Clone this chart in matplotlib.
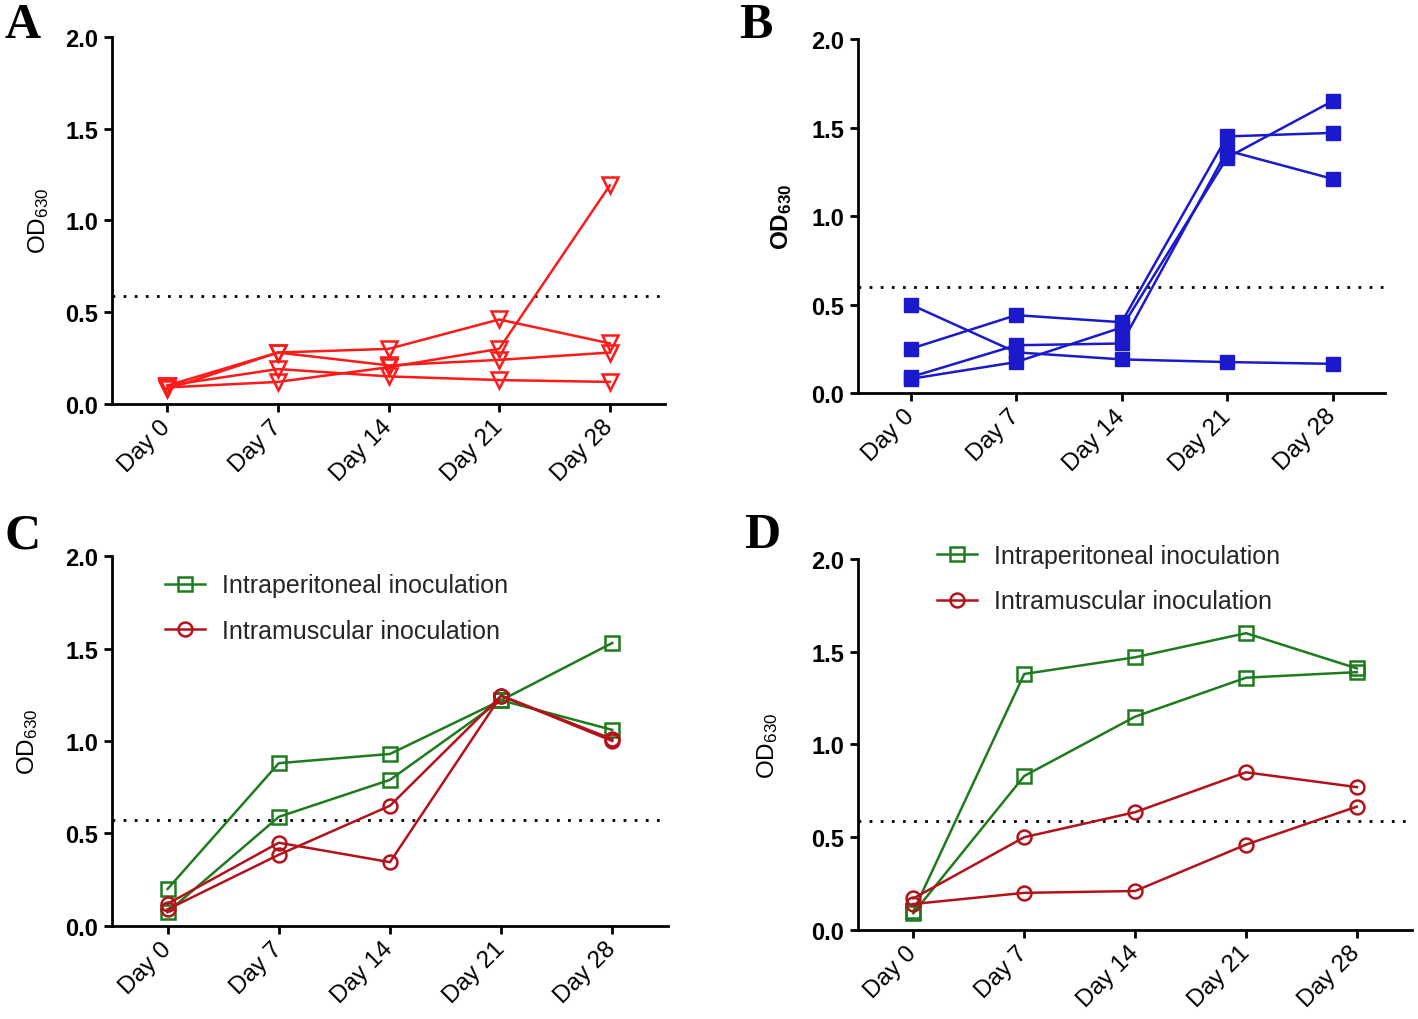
import matplotlib
matplotlib.use("Agg")
import matplotlib.pyplot as plt

plt.rcParams["font.family"] = ["Liberation Sans", "DejaVu Sans"]
plt.rcParams["mathtext.default"] = "regular"

days = ["Day 0", "Day 7", "Day 14", "Day 21", "Day 28"]
yticks = [0.0, 0.5, 1.0, 1.5, 2.0]

# Panel A: individual mice, red open triangles
a_series = [
    [0.09, 0.12, 0.20, 0.30, 1.19],
    [0.10, 0.28, 0.30, 0.46, 0.33],
    [0.08, 0.28, 0.21, 0.24, 0.28],
    [0.10, 0.19, 0.15, 0.13, 0.12],
]
a_cutoff = 0.59

# Panel B: individual mice, blue filled squares
b_series = [
    [0.50, 0.23, 0.19, 0.175, 0.165],
    [0.25, 0.44, 0.40, 1.45, 1.47],
    [0.09, 0.27, 0.28, 1.37, 1.21],
    [0.08, 0.175, 0.37, 1.33, 1.65],
]
b_cutoff = 0.60

# Panel C
c_ip = [
    [0.20, 0.88, 0.93, 1.22, 1.06],
    [0.075, 0.59, 0.79, 1.22, 1.53],
]
c_im = [
    [0.12, 0.45, 0.345, 1.245, 1.00],
    [0.09, 0.385, 0.65, 1.245, 1.01],
]
c_cutoff = 0.575

# Panel D
d_ip = [
    [0.10, 1.38, 1.47, 1.60, 1.41],
    [0.09, 0.83, 1.15, 1.36, 1.39],
]
d_im = [
    [0.17, 0.50, 0.635, 0.85, 0.77],
    [0.14, 0.20, 0.21, 0.46, 0.665],
]
d_cutoff = 0.59

legend_labels = ["Intraperitoneal inoculation", "Intramuscular inoculation"]

RED = "#FF1A1A"
BLUE = "#1A1ACC"
GREEN = "#1E7B1E"
DRED = "#B3121B"


def style_axis(ax, cutoff, labelpad, label_bold=False):
    x = range(len(days))
    ax.set_xlim(-0.5, 4.5)
    ax.set_ylim(0, 2.0)
    ax.set_xticks(list(x))
    ax.set_xticklabels(days, rotation=45, ha="right", va="center",
                       rotation_mode="anchor", fontsize=17.5)
    ax.set_yticks(yticks)
    ax.set_yticklabels([f"{v:.1f}" for v in yticks], fontsize=17, fontweight="bold")
    for s in ["top", "right"]:
        ax.spines[s].set_visible(False)
    for s in ["left", "bottom"]:
        ax.spines[s].set_linewidth(2.0)
    ax.tick_params(axis="both", direction="out", length=6, width=2.0, pad=4)
    ax.tick_params(axis="x", pad=8)
    ax.axhline(cutoff, color="black", lw=2.0, linestyle=(0, (1, 3)), zorder=1)
    ax.set_ylabel(r"OD$_{\mathregular{630}}$", fontsize=17.5,
                  fontweight="bold" if label_bold else "normal", labelpad=labelpad)


def add_legend(ax, anchor):
    ax.legend(loc="upper left", bbox_to_anchor=anchor, frameon=False,
              fontsize=18, handlelength=1.6, handletextpad=0.7, labelspacing=0.86,
              borderpad=0, borderaxespad=0, labelcolor="#262626")


fig = plt.figure(figsize=(14.18, 10.2), dpi=100)

# A
ax = fig.add_axes([0.079, 0.603, 0.390, 0.360])
for s in a_series:
    ax.plot(range(5), s, color=RED, lw=1.8, marker="v", ms=11.5,
            mfc="none", mec=RED, mew=1.8, zorder=3)
style_axis(ax, a_cutoff, 10)

# B
ax = fig.add_axes([0.605, 0.6137, 0.372, 0.347])
for s in b_series:
    ax.plot(range(5), s, color=BLUE, lw=1.8, marker="s", ms=10,
            mfc=BLUE, mec=BLUE, zorder=3)
style_axis(ax, b_cutoff, 12, label_bold=True)

# C
ax = fig.add_axes([0.079, 0.0912, 0.392, 0.3627])
for i, s in enumerate(c_ip):
    ax.plot(range(5), s, color=GREEN, lw=1.8, marker="s", ms=10, mfc="none",
            mec=GREEN, mew=1.8, zorder=3, label=legend_labels[0] if i == 0 else None)
for i, s in enumerate(c_im):
    ax.plot(range(5), s, color=DRED, lw=1.8, marker="o", ms=10, mfc="none",
            mec=DRED, mew=1.8, zorder=3, label=legend_labels[1] if i == 0 else None)
style_axis(ax, c_cutoff, 18)
add_legend(ax, (0.095, 0.953))

# D
ax = fig.add_axes([0.605, 0.0873, 0.391, 0.3637])
for i, s in enumerate(d_ip):
    ax.plot(range(5), s, color=GREEN, lw=1.8, marker="s", ms=10, mfc="none",
            mec=GREEN, mew=1.8, zorder=3, label=legend_labels[0] if i == 0 else None)
for i, s in enumerate(d_im):
    ax.plot(range(5), s, color=DRED, lw=1.8, marker="o", ms=10, mfc="none",
            mec=DRED, mew=1.8, zorder=3, label=legend_labels[1] if i == 0 else None)
style_axis(ax, d_cutoff, 22)
add_legend(ax, (0.142, 1.041))

# panel letters
for lbl, x, y in [("A", 0.003, 0.997), ("B", 0.521, 0.997),
                  ("C", 0.003, 0.497), ("D", 0.525, 0.497)]:
    fig.text(x, y, lbl, fontsize=36, fontweight="bold", va="top", ha="left",
             family=["Liberation Serif", "DejaVu Serif"])

fig.savefig("out.png", dpi=100)
